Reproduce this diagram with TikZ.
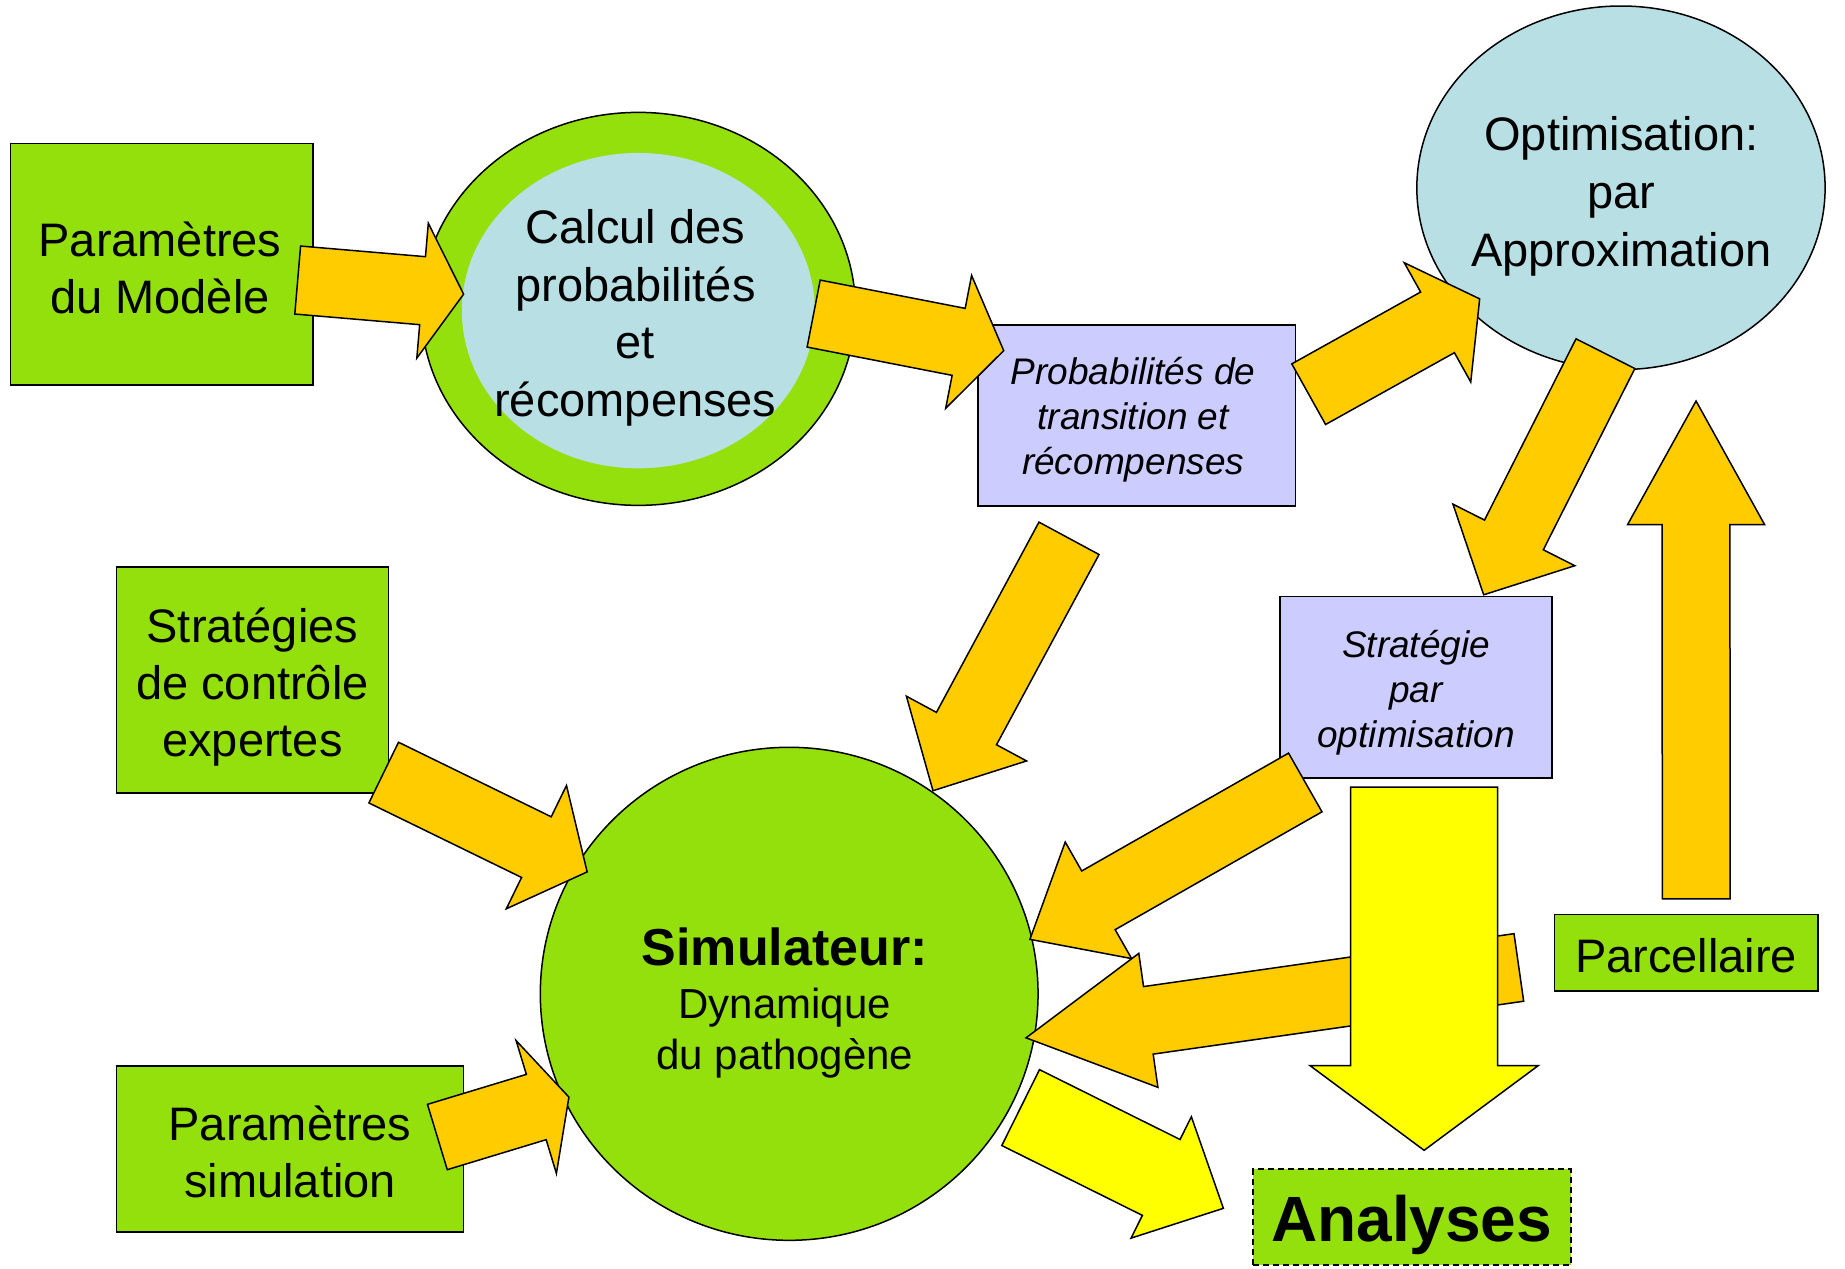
\documentclass[tikz,border=0pt]{standalone}
\usepackage{fontspec}
\setmainfont{Liberation Sans}
\usetikzlibrary{calc,shapes.geometric}

\definecolor{leaf}{RGB}{148,224,12}
\definecolor{sky}{RGB}{184,223,227}
\definecolor{lilac}{RGB}{204,204,255}
\definecolor{amber}{RGB}{255,204,0}
\definecolor{lemon}{RGB}{255,255,0}

% Block arrow: #1 style, #2 tail centre, #3 tip,
% #4 half shaft width, #5 half head width, #6 head length (picture units)
\newcommand{\blockarrow}[6]{%
  \coordinate (ba-base) at ($(#3)!#6*1.1767pt!(#2)$);
  \draw[#1] ($(#2)!#4*1.1767pt!90:(#3)$)
    -- ($(ba-base)!#4*1.1767pt!90:(#3)$)
    -- ($(ba-base)!#5*1.1767pt!90:(#3)$)
    -- (#3)
    -- ($(ba-base)!#5*1.1767pt!-90:(#3)$)
    -- ($(ba-base)!#4*1.1767pt!-90:(#3)$)
    -- ($(#2)!#4*1.1767pt!-90:(#3)$)
    -- cycle;}

\begin{document}
\begin{tikzpicture}[x=1.1767pt, y=-1.1767pt,
  outline/.style={draw=black, line width=1.5pt, inner sep=0pt, outer sep=0pt},
  dims/.style 2 args={minimum width={#1*1.1767pt}, minimum height={#2*1.1767pt}},
  greenbox/.style={outline, rectangle, fill=leaf},
  lilacbox/.style={outline, rectangle, fill=lilac},
  label/.style={align=center, inner sep=0pt, font=\fontsize{47}{57}\selectfont},
  smalllabel/.style={align=center, inner sep=0pt, font=\fontsize{37}{45}\selectfont\itshape},
  orangearrow/.style={draw=black, line width=1.5pt, fill=amber},
  yellowarrow/.style={draw=black, line width=1.5pt, fill=lemon}]

\useasboundingbox (0,0) rectangle (1568,1078);
\fill[white] (0,0) rectangle (1568,1078);

% ---- boxes and bubbles ----
\node[greenbox, dims={257}{205}] (params) at (137.5,224.5) {};
\node[label] (params-label) at (136,227.5) {Paramètres\\du Modèle};

\node[outline, ellipse, fill=leaf, dims={369}{334}] (calc) at (542.5,262.5) {};
\node[ellipse, fill=sky, inner sep=0pt, dims={300}{268}] (calcin) at (542.5,264) {};
\node[label, font=\fontsize{47}{57.7}\selectfont] (calc-label) at (540,270)
  {Calcul des\\probabilités\\et\\récompenses};

\node[lilacbox, dims={270}{154}] (probas) at (966,353) {};
\node[smalllabel] (probas-label) at (963,357) {Probabilités de\\transition et\\récompenses};

\node[outline, ellipse, fill=sky, dims={347}{309}] (optim) at (1377.6,159.6) {};
\node[label, font=\fontsize{47}{58}\selectfont] (optim-label) at (1378,167)
  {Optimisation:\\par\\Approximation};

\node[greenbox, dims={231}{192}] (expert) at (214.5,578) {};
\node[label] (expert-label) at (214.5,584) {Stratégies\\de contrôle\\expertes};

\node[lilacbox, dims={231}{154}] (stratopt) at (1203.5,584) {};
\node[smalllabel] (stratopt-label) at (1203.5,589) {Stratégie\\par\\optimisation};

\node[outline, ellipse, fill=leaf, dims={423}{419}] (simu) at (670.7,844.6) {};
\node[align=center, inner sep=0pt, font=\fontsize{42}{51.8}\selectfont] (simu-label) at (667,852.5)
  {{\fontsize{52}{56}\selectfont\bfseries Simulateur:}\\[1.2pt]Dynamique\\du pathogène};

\node[greenbox, dims={295}{141}] (simparams) at (246.5,976.5) {};
\node[label] (simparams-label) at (246.5,979) {Paramètres\\simulation};

\node[greenbox, dims={224}{65}] (parcel) at (1433,809.5) {};
\node[label] (parcel-label) at (1433,812.5) {Parcellaire};

\node[greenbox, dash pattern=on 6pt off 4pt, line width=2pt, dims={270}{81}] (analyses)
  at (1199.7,1034.4) {};
\node[label, font=\fontsize{64}{70}\selectfont\bfseries] (analyses-label) at (1199.7,1041.4) {Analyses};

% ---- arrow end points ----
\coordinate (params-out) at (253,238);     \coordinate (calc-in) at (394,250);
\coordinate (calc-out) at (691.5,266.5);   \coordinate (probas-in) at (853,298);
\coordinate (probas-out) at (1112.2,335);  \coordinate (optim-in) at (1257.5,254);
\coordinate (optim-out) at (1364.4,300.6); \coordinate (stratopt-in) at (1260.9,505.5);
\coordinate (probas-down) at (908.5,457.5);\coordinate (simu-top) at (792.9,672);
\coordinate (expert-out) at (326.1,656.6); \coordinate (simu-nw) at (499,741);
\coordinate (simparams-out) at (371.7,966.3); \coordinate (simu-sw) at (483.5,932.4);
\coordinate (stratopt-out) at (1109.3,665);\coordinate (simu-ne) at (875.3,798.3);
\coordinate (parcel-left) at (1290.8,822.2);\coordinate (simu-e) at (872,882);
\coordinate (parcel-up) at (1441.5,764);   \coordinate (optim-below) at (1441.4,340.8);
\coordinate (stratopt-down) at (1210.3,668.9); \coordinate (analyses-top) at (1210.3,977.6);
\coordinate (simu-se) at (867.4,941.3);    \coordinate (analyses-left) at (1039.7,1026.9);

% ---- orange flow arrows ----
\blockarrow{orangearrow}{params-out}{calc-in}{29}{57.5}{35}
\blockarrow{orangearrow}{calc-out}{probas-in}{29}{57.5}{39}
\blockarrow{orangearrow}{probas-out}{optim-in}{29.5}{58}{41}
\blockarrow{orangearrow}{optim-out}{stratopt-in}{28}{58}{57}
\blockarrow{orangearrow}{probas-down}{simu-top}{29}{58}{60}
\blockarrow{orangearrow}{expert-out}{simu-nw}{28.7}{58.3}{48}
\blockarrow{orangearrow}{simparams-out}{simu-sw}{29}{59}{29}
\blockarrow{orangearrow}{stratopt-out}{simu-ne}{28.7}{57}{67}
\blockarrow{orangearrow}{parcel-left}{simu-e}{29}{57.5}{105}
\blockarrow{orangearrow}{parcel-up}{optim-below}{28.8}{58.2}{105}

% ---- yellow arrows towards the analyses ----
\blockarrow{yellowarrow}{stratopt-down}{analyses-top}{62.5}{97}{72}
\blockarrow{yellowarrow}{simu-se}{analyses-left}{36}{57.6}{59}

\end{tikzpicture}
\end{document}
